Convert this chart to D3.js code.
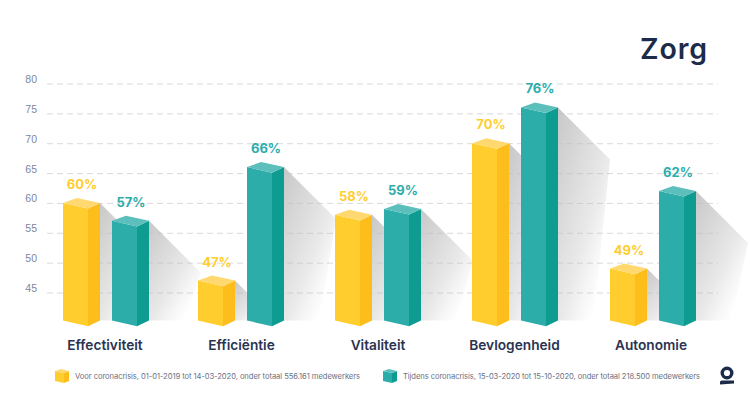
<!DOCTYPE html>
<html>
<head>
<meta charset="utf-8">
<script src="https://cdn.jsdelivr.net/npm/d3@7"></script>
<style>
    html, body { margin: 0; padding: 0; background: #fff; }
    svg { display: block; font-family: Inter, sans-serif; }
    .grid line { stroke: #bdbfca; stroke-opacity: .6; stroke-dasharray: 6 4; }
    .grid path { display: none; }
    .grid text { font-size: 10.5px; fill: #80869a; }
</style>
</head>
<body>
<div id="chart"></div>
<script>
var categories = ["Effectiviteit", "Efficiëntie", "Vitaliteit", "Bevlogenheid", "Autonomie"];
var before = [60, 47, 58, 70, 49];
var during = [57, 66, 59, 76, 62];
var yTicks = [45, 50, 55, 60, 65, 70, 75, 80];
var legendLabels = [
    "Voor coronacrisis, 01-01-2019 tot 14-03-2020, onder totaal 556.161 medewerkers",
    "Tijdens coronacrisis, 15-03-2020 tot 15-10-2020, onder totaal 218.500 medewerkers"
];
var title = "Zorg";
var baseValue = 40.3;

var width = 750, height = 394;

var yellow = {front: "#ffcd2d", side: "#fdbe1b", top: "#ffd870"};
var teal = {front: "#2cadaa", side: "#0e9c90", top: "#5dbfbc"};

var x = d3.scalePoint().domain(categories).range([105, 651]);
//bar groups are not spaced quite evenly in the original
var groupLeft = d3.scaleOrdinal().domain(categories).range([63, 198, 335, 472, 610]);
var y = d3.scaleLinear().domain([45, 80]).range([292.5, 83.5]);

var svg = d3.select("#chart").append("svg")
        .attr("width", width)
        .attr("height", height);

var defs = svg.append("defs");
var shade = defs.append("linearGradient")
        .attr("id", "shade")
        .attr("x1", 0).attr("y1", 0)
        .attr("x2", 0.85).attr("y2", 1);
shade.append("stop").attr("offset", 0).attr("stop-color", "#c8c8c8");
shade.append("stop").attr("offset", 0.6).attr("stop-color", "#e9e9e9");
shade.append("stop").attr("offset", 0.75).attr("stop-color", "#f5f5f5");
shade.append("stop").attr("offset", 0.9).attr("stop-color", "#ffffff");

//one record per bar, shadows are drawn first so the next bar covers them
var bars = [];
categories.forEach(function (c, i) {
    bars.push({cat: c, value: before[i], left: groupLeft(c), col: yellow});
    bars.push({cat: c, value: during[i], left: groupLeft(c) + 49, col: teal});
});

var frontW = 25, sideW = 12, drop = 5.6, backRise = 5;
var base = y(baseValue);

var line = d3.line();

svg.append("g").selectAll("path")
        .data(bars)
        .enter().append("path")
        .attr("fill", "url(#shade)")
        .attr("d", function (d) {
            var rx = d.left + frontW + sideW, t = y(d.value);
            var reach = Math.min(52, (base - t) * 0.9);
            return line([[rx, t], [rx + reach, t + reach], [rx + reach * 0.68, base], [rx, base]]) + "Z";
        });

var grid = svg.append("g")
        .attr("class", "grid")
        .attr("transform", "translate(47,0)")
        .call(d3.axisLeft(y).tickValues(yTicks).tickSize(-671).tickPadding(10));
grid.selectAll("text").attr("dy", "-0.1em");

var bar = svg.append("g").selectAll("g")
        .data(bars)
        .enter().append("g");

bar.append("path")
        .attr("fill", function (d) { return d.col.front; })
        .attr("d", function (d) {
            var t = y(d.value), l = d.left, m = l + frontW;
            return line([[l, t], [m, t + drop], [m, base + drop], [l, base]]) + "Z";
        });

bar.append("path")
        .attr("fill", function (d) { return d.col.side; })
        .attr("d", function (d) {
            var t = y(d.value), m = d.left + frontW, r = m + sideW;
            return line([[m, t + drop], [r, t], [r, base], [m, base + drop]]) + "Z";
        });

bar.append("path")
        .attr("fill", function (d) { return d.col.top; })
        .attr("d", function (d) {
            var t = y(d.value), l = d.left, m = l + frontW, r = m + sideW;
            return line([[l, t], [m, t + drop], [r, t], [l + sideW + 2, t - backRise]]) + "Z";
        });

bar.append("text")
        .attr("x", function (d) { return d.left + 19; })
        .attr("y", function (d) { return y(d.value) - 14; })
        .attr("text-anchor", "middle")
        .attr("font-size", 13)
        .attr("font-weight", 700)
        .attr("fill", function (d) { return d.col.front; })
        .text(function (d) { return d.value + "%"; });

svg.append("g").selectAll("text")
        .data(categories)
        .enter().append("text")
        .attr("x", function (d) { return x(d); })
        .attr("y", 349.5)
        .attr("text-anchor", "middle")
        .attr("font-size", 13.7)
        .attr("font-weight", 600)
        .attr("fill", "#2a3352")
        .text(function (d) { return d; });

svg.append("text")
        .attr("x", 708)
        .attr("y", 59)
        .attr("text-anchor", "end")
        .attr("font-size", 28.5)
        .attr("font-weight", 600)
        .attr("letter-spacing", 0.9)
        .attr("fill", "#1d2b4b")
        .text(title);

//legend
var legendPos = [
    {swatch: 55, text: 75, len: 285, col: yellow},
    {swatch: 383, text: 403, len: 297, col: teal}
];
var legend = svg.append("g").selectAll("g")
        .data(legendPos)
        .enter().append("g")
        .attr("transform", function (d) { return "translate(" + d.swatch + ",376)"; });

legend.append("path")
        .attr("fill", function (d) { return d.col.front; })
        .attr("d", "M0,-5L9,-3L9,7L0,5Z");
legend.append("path")
        .attr("fill", function (d) { return d.col.side; })
        .attr("d", "M9,-3L14,-5L14,5L9,7Z");
legend.append("path")
        .attr("fill", function (d) { return d.col.top; })
        .attr("d", "M0,-5L9,-3L14,-5L6,-7Z");
legend.append("text")
        .attr("x", function (d) { return d.text - d.swatch; })
        .attr("y", 3)
        .attr("font-size", 7.6)
        .attr("textLength", function (d) { return d.len; })
        .attr("fill", "#6b7184")
        .text(function (d, i) { return legendLabels[i]; });

//logo
var logo = svg.append("g").attr("transform", "translate(727,373)");
logo.append("circle")
        .attr("r", 4.8)
        .attr("fill", "none")
        .attr("stroke", "#1d2b4b")
        .attr("stroke-width", 3.4);
logo.append("path")
        .attr("fill", "#1d2b4b")
        .attr("d", "M-7,9Q-7,7.5 -5,7.5L7,7.5L7,10.5L-7,11.5Z");
</script>
</body>
</html>
